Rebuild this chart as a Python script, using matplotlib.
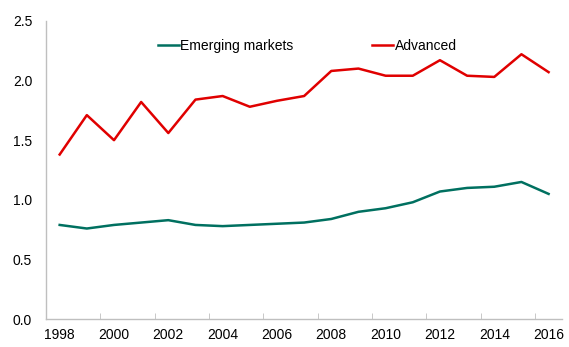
import numpy as np
import matplotlib.pyplot as plt

plt.rcParams['font.family'] = ['Liberation Sans', 'DejaVu Sans']

years = list(range(1998, 2017))
emerging = [0.79, 0.76, 0.79, 0.81, 0.83, 0.79, 0.78, 0.79, 0.80, 0.81,
            0.84, 0.90, 0.93, 0.98, 1.07, 1.10, 1.11, 1.15, 1.05]
advanced = [1.38, 1.71, 1.50, 1.82, 1.56, 1.84, 1.87, 1.78, 1.83, 1.87,
            2.08, 2.10, 2.04, 2.04, 2.17, 2.04, 2.03, 2.22, 2.07]

fig, ax = plt.subplots(figsize=(5.69, 3.47), dpi=100)
fig.subplots_adjust(left=0.081, right=0.988, top=0.94, bottom=0.08)

x = np.arange(len(years))
ax.plot(x, emerging, color='#007060', lw=1.8, label='Emerging markets')
ax.plot(x, advanced, color='#e00000', lw=1.8, label='Advanced')

ax.set_xlim(-0.5, len(years) - 0.5)
ax.set_ylim(0, 2.5)
ax.set_yticks(np.arange(0, 2.51, 0.5))
ax.set_yticklabels([f'{v:.1f}' for v in np.arange(0, 2.51, 0.5)])
ax.tick_params(axis='y', length=0, labelsize=10, pad=10)

# year labels under every other category, tick marks between categories
ax.set_xticks(x[::2])
ax.set_xticklabels([str(y) for y in years[::2]])
ax.set_xticks(x[1:-1:2] + 0.5, minor=True)
ax.tick_params(axis='x', which='major', length=0, labelsize=10, pad=6)
ax.tick_params(axis='x', which='minor', direction='in', length=4, color='#bfbfbf')

for side in ['top', 'right']:
    ax.spines[side].set_visible(False)
for side in ['left', 'bottom']:
    ax.spines[side].set_color('#bfbfbf')
    ax.spines[side].set_linewidth(1.0)

ax.legend(loc='upper center', bbox_to_anchor=(0.506, 0.98), ncol=2, frameon=False,
          fontsize=10, handlelength=1.5, handletextpad=0.1, columnspacing=5.7)

fig.savefig('out.png', dpi=100)
